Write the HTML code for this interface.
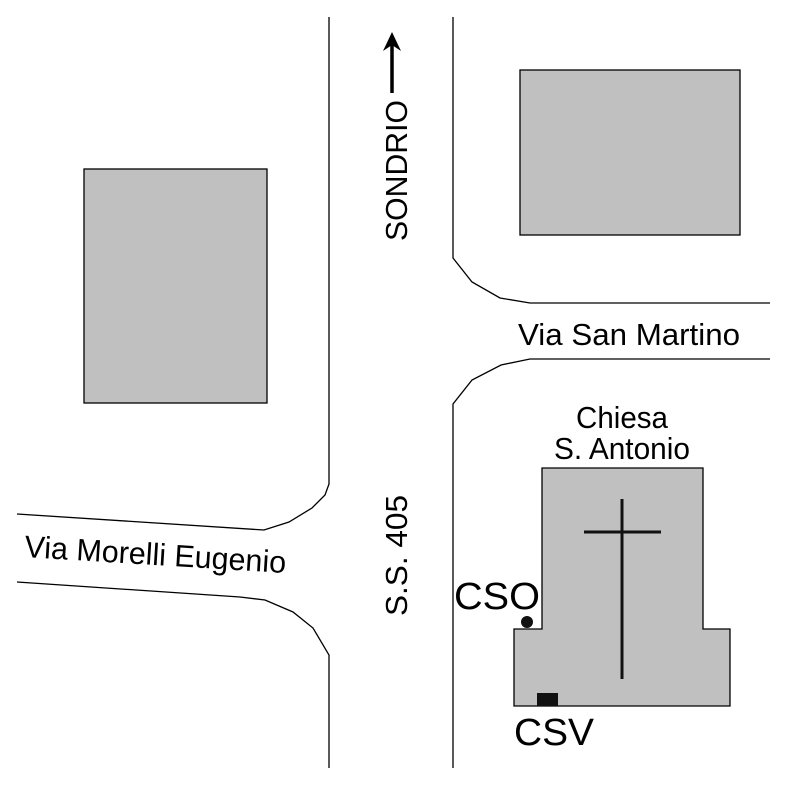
<!DOCTYPE html>
<html><head><style>body{margin:0;background:#fff}</style></head><body>
<svg width="787" height="787" viewBox="0 0 787 787" xmlns="http://www.w3.org/2000/svg" font-family="Liberation Sans, Arial, sans-serif">
<g fill="none" stroke="#000" stroke-width="1.3">
<polyline points="329,17 329,484 325,495 312,508 289,522 264,530 17,514"/>
<polyline points="17,582 240,597 265,600 293,612 313,628 329,655 329,768"/>
<polyline points="453,17 453,258 472,282 500,298 530,303 770,303"/>
<polyline points="770,359 530,359 501,365 472,380 453,404 453,768"/>
</g>
<rect x="84" y="169" width="183" height="234" fill="#c0c0c0" stroke="#000" stroke-width="1.3"/>
<rect x="520" y="70" width="220" height="165" fill="#c0c0c0" stroke="#000" stroke-width="1.3"/>
<polygon points="542,468 703,468 703,629 730,629 730,706 514,706 514,629 542,629" fill="#c0c0c0" stroke="#000" stroke-width="1.3"/>
<line x1="622" y1="499" x2="622" y2="679" stroke="#111" stroke-width="3"/>
<line x1="584" y1="532" x2="661" y2="532" stroke="#111" stroke-width="3"/>
<circle cx="527" cy="622" r="6" fill="#111"/>
<rect x="537" y="693" width="21" height="13" fill="#111"/>
<line x1="392" y1="93" x2="392" y2="42" stroke="#000" stroke-width="3.5"/>
<polygon points="392,32 383,51 392,45 401,51" fill="#000"/>
<text transform="translate(407,241) rotate(-90)" font-size="31" textLength="141" lengthAdjust="spacingAndGlyphs">SONDRIO</text>
<text transform="translate(407,616) rotate(-90)" font-size="31" textLength="121" lengthAdjust="spacingAndGlyphs">S.S. 405</text>
<text x="518" y="345" font-size="31" textLength="222" lengthAdjust="spacingAndGlyphs">Via San Martino</text>
<text transform="translate(24,557) rotate(3.5)" font-size="31" textLength="262" lengthAdjust="spacingAndGlyphs">Via Morelli Eugenio</text>
<text x="576" y="428" font-size="31" textLength="92" lengthAdjust="spacingAndGlyphs">Chiesa</text>
<text x="554" y="459" font-size="31" textLength="136" lengthAdjust="spacingAndGlyphs">S. Antonio</text>
<text x="454" y="609" font-size="38" textLength="86" lengthAdjust="spacingAndGlyphs">CSO</text>
<text x="514" y="745" font-size="38" textLength="80" lengthAdjust="spacingAndGlyphs">CSV</text>
</svg>
</body></html>
